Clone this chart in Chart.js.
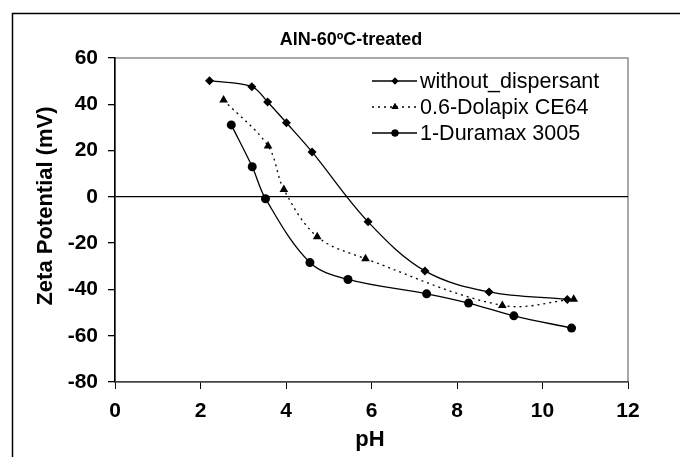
<!DOCTYPE html>
<html>
<head>
<meta charset="utf-8">
<script src="https://cdn.jsdelivr.net/npm/chart.js@4"></script>
<style>
  html, body { margin: 0; padding: 0; background: #fff; }
  #wrap { width: 680px; height: 457px; }
</style>
</head>
<body>
<div id="wrap"><canvas id="chart" width="680" height="457"></canvas></div>
<script>
// Data
const chartTitle = 'AlN-60ºC-treated';
const xTitle = 'pH';
const yTitle = 'Zeta Potential (mV)';
const seriesNames = ['without_dispersant', '0.6-Dolapix CE64', '1-Duramax 3005'];

const phWithout = [2.21, 3.2, 3.57, 4.01, 4.61, 5.92, 7.25, 8.75, 10.58];
const zetaWithout = [50.2, 47.6, 41, 32, 19.4, -10.8, -32, -41.1, -44.3];

const phDolapix = [2.54, 3.58, 3.95, 4.73, 5.86, 9.06, 10.73];
const zetaDolapix = [41.8, 22, 3.2, -17.2, -26.7, -46.9, -44.2];

const phDuramax = [2.72, 3.21, 3.52, 4.56, 5.45, 7.29, 8.27, 9.33, 10.68];
const zetaDuramax = [31.1, 13, -0.8, -28.4, -35.7, -41.9, -45.9, -51.4, -56.7];

const xTicks = [0, 2, 4, 6, 8, 10, 12];
const yTicks = [-80, -60, -40, -20, 0, 20, 40, 60];

const FONT = 'Arial, "Liberation Sans", sans-serif';
const pairs = (xs, ys) => xs.map((x, i) => ({ x, y: ys[i] }));

const datasets = [
  { label: seriesNames[0], data: pairs(phWithout, zetaWithout), pointStyle: 'rectRot', pointRadius: 4.5, borderDash: [] },
  { label: seriesNames[1], data: pairs(phDolapix, zetaDolapix), pointStyle: 'triangle', pointRadius: 5, borderDash: [2, 4] },
  { label: seriesNames[2], data: pairs(phDuramax, zetaDuramax), pointStyle: 'circle', pointRadius: 4.5, borderDash: [] }
].map(d => Object.assign(d, {
  borderColor: '#000',
  backgroundColor: '#000',
  pointBackgroundColor: '#000',
  pointBorderColor: '#000',
  pointBorderWidth: 0,
  borderWidth: 1.3,
  tension: 0.35,
  fill: false
}));

// frame, plot box, titles and legend
const decor = {
  id: 'decor',
  beforeDraw(chart) {
    const c = chart.ctx, a = chart.chartArea;
    c.save();
    c.fillStyle = '#fff';
    c.fillRect(0, 0, chart.width, chart.height);
    c.strokeStyle = '#000';
    c.lineWidth = 1.5;
    c.beginPath();
    c.moveTo(12.5, chart.height);
    c.lineTo(12.5, 13.5);
    c.lineTo(chart.width, 13.5);
    c.stroke();
    c.strokeStyle = '#8c8c8c';
    c.lineWidth = 1.5;
    c.strokeRect(a.left, a.top, a.right - a.left, a.bottom - a.top);
    c.restore();
  },
  afterDraw(chart) {
    const c = chart.ctx;
    c.save();
    c.fillStyle = '#000';
    c.textAlign = 'center';
    c.textBaseline = 'middle';
    c.font = 'bold 18px ' + FONT;
    c.fillText(chartTitle, 351, 40);
    c.font = 'bold 22px ' + FONT;
    c.fillText(xTitle, 370, 440);
    c.translate(46, 206);
    c.rotate(-Math.PI / 2);
    c.fillText(yTitle, 0, 0);
    c.restore();

    // legend
    c.save();
    c.font = '21.5px ' + FONT;
    c.textAlign = 'left';
    c.textBaseline = 'middle';
    chart.data.datasets.forEach((ds, i) => {
      const y = 81 + i * 26;
      c.strokeStyle = '#000';
      c.lineWidth = 1.3;
      c.setLineDash(ds.borderDash);
      c.beginPath();
      c.moveTo(372, y);
      c.lineTo(417, y);
      c.stroke();
      c.setLineDash([]);
      Chart.helpers.drawPoint(c, { pointStyle: ds.pointStyle, radius: ds.pointRadius - 1, rotation: 0, borderWidth: 0 }, 395, y);
      c.fillStyle = '#000';
      c.fill();
      c.fillText(ds.label, 420, y + 1);
    });
    c.restore();
  }
};

new Chart(document.getElementById('chart'), {
  type: 'line',
  data: { datasets },
  plugins: [decor],
  options: {
    responsive: false,
    animation: false,
    layout: { padding: { top: 58, right: 52, left: 0, bottom: 0 } },
    plugins: { legend: { display: false }, title: { display: false }, tooltip: { enabled: false } },
    scales: {
      x: {
        type: 'linear',
        min: 0, max: 12,
        afterBuildTicks: s => { s.ticks = xTicks.map(v => ({ value: v })); },
        afterFit: s => { s.height = 75; },
        ticks: { color: '#000', font: { family: FONT, size: 21, weight: 'bold' }, padding: 10, maxRotation: 0 },
        grid: { drawOnChartArea: false, tickColor: '#000', tickLength: 7, lineWidth: 1 },
        border: { display: true, color: '#444', width: 1.5 }
      },
      y: {
        type: 'linear',
        min: -80, max: 60,
        afterBuildTicks: s => { s.ticks = yTicks.map(v => ({ value: v })); },
        afterFit: s => { s.width = 115; },
        ticks: { color: '#000', font: { family: FONT, size: 21, weight: 'bold' }, padding: 10 },
        grid: {
          drawOnChartArea: true,
          color: ctx => (ctx.tick && ctx.tick.value === 0) ? '#000' : 'rgba(0,0,0,0)',
          tickColor: '#000', tickLength: 7, lineWidth: 1.3
        },
        border: { display: true, color: '#000', width: 1.5 }
      }
    }
  }
});
</script>
</body>
</html>
